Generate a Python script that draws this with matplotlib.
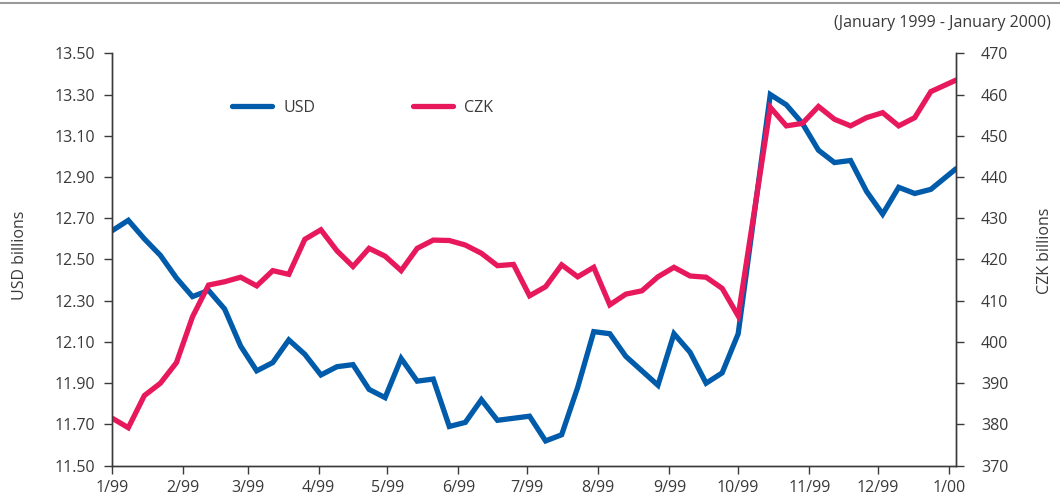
import datetime as dt
import matplotlib
matplotlib.use("Agg")
import matplotlib.pyplot as plt

# weekly observations (Fridays), a gap around 8 Oct 1999, last value 4 Jan 2000
start = dt.date(1999, 1, 1)
day_offsets = [7 * k for k in range(40)] + [7 * k for k in range(41, 52)] + [368]
dates = [start + dt.timedelta(days=d) for d in day_offsets]

usd = [12.64, 12.69, 12.60, 12.52, 12.41, 12.32, 12.35, 12.26, 12.08, 11.96,
       12.00, 12.11, 12.04, 11.94, 11.98, 11.99, 11.87, 11.83, 12.02, 11.91,
       11.92, 11.69, 11.71, 11.82, 11.72, 11.73, 11.74, 11.62, 11.65, 11.88,
       12.15, 12.14, 12.03, 11.96, 11.89, 12.14, 12.05, 11.90, 11.95, 12.14,
       13.30, 13.25, 13.16, 13.03, 12.97, 12.98, 12.83, 12.72, 12.85, 12.82,
       12.84, 12.94]

czk = [381.5, 379.2, 387.0, 390.0, 395.0, 406.1, 413.8, 414.6, 415.7, 413.6,
       417.3, 416.4, 424.9, 427.2, 422.1, 418.3, 422.7, 420.8, 417.3, 422.7,
       424.7, 424.6, 423.5, 421.5, 418.5, 418.8, 411.2, 413.4, 418.7, 415.8,
       418.1, 409.0, 411.6, 412.4, 415.8, 418.1, 416.0, 415.7, 413.0, 406.3,
       456.9, 452.4, 453.0, 457.1, 454.0, 452.4, 454.4, 455.6, 452.4, 454.4,
       460.7, 463.5]

month_ticks = [dt.date(1999, m, 1) for m in range(1, 13)] + [dt.date(2000, 1, 1)]
month_labels = [f"{m}/99" for m in range(1, 13)] + ["1/00"]
usd_ticks = [11.5 + 0.2 * i for i in range(11)]
czk_ticks = list(range(370, 471, 10))

BLUE = "#005BAA"
PINK = "#E8185C"
TXT = "#3a3a3a"
FS = 11.5

plt.rcParams["font.family"] = ["Open Sans", "DejaVu Sans"]
plt.rcParams["font.size"] = FS

fig = plt.figure(figsize=(10.6, 4.98), dpi=100)
ax = fig.add_axes([0.1059, 0.0649, 0.7960, 0.8281])
ax2 = ax.twinx()

l1, = ax.plot(dates, usd, color=BLUE, lw=3.8, solid_joinstyle="miter", solid_capstyle="round", label="USD")
l2, = ax2.plot(dates, czk, color=PINK, lw=3.8, solid_joinstyle="miter", solid_capstyle="round", label="CZK")

ax.set_xlim(start, dt.date(2000, 1, 4))
ax.set_ylim(11.5, 13.5)
ax2.set_ylim(370, 470)

ax.set_xticks(month_ticks)
ax.set_xticklabels(month_labels)
ax.set_yticks(usd_ticks)
ax.set_yticklabels([f"{v:.2f}" for v in usd_ticks])
ax2.set_yticks(czk_ticks)
ax2.set_yticklabels([str(v) for v in czk_ticks])

for a in (ax, ax2):
    a.spines["top"].set_visible(False)
    for s in ("left", "right", "bottom"):
        a.spines[s].set_color(TXT)
        a.spines[s].set_linewidth(1.0)
    a.tick_params(colors=TXT, labelcolor=TXT, length=6, width=1.0)
ax.tick_params(axis="y", pad=6)
ax2.tick_params(axis="y", pad=12)
ax.tick_params(axis="x", pad=4)

fig.text(0.019, 0.488, "USD billions", rotation=90, ha="center", va="center", color=TXT)
fig.text(0.986, 0.496, "CZK billions", rotation=90, ha="center", va="center", color=TXT)

leg = fig.legend(handles=[l1, l2], loc="center left", bbox_to_anchor=(0.219, 0.784),
                 ncol=2, frameon=False, handlelength=2.5, handletextpad=0.7,
                 columnspacing=6.1, fontsize=FS, borderaxespad=0, borderpad=0)
for t in leg.get_texts():
    t.set_color(TXT)

fig.text(0.991, 0.953, "(January 1999 - January 2000)", ha="right", va="center",
         color=TXT, fontsize=FS)
fig.add_artist(plt.Line2D([0, 1], [0.993, 0.993], color="#999999", lw=1.5,
                          transform=fig.transFigure))

fig.savefig("out.png", dpi=100)
